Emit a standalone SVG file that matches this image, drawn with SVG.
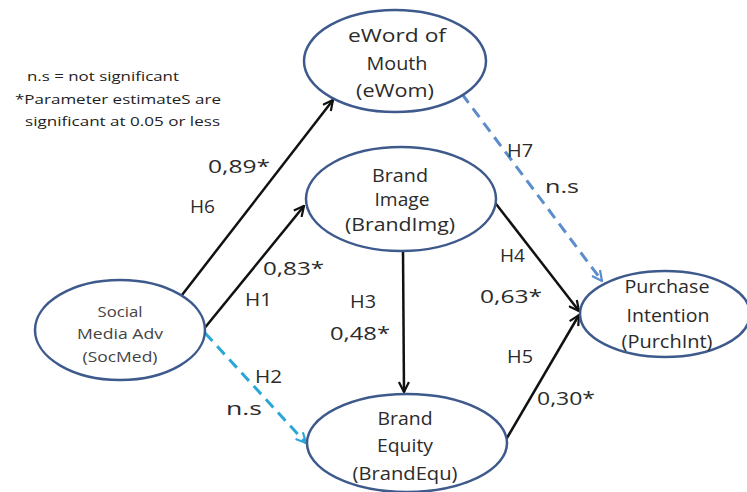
<svg xmlns="http://www.w3.org/2000/svg" width="747" height="492" viewBox="0 0 747 492">
  <style>
    .node ellipse { fill: #ffffff; stroke: #3e5a8c; stroke-width: 2.5; }
    .node text { font-family: "Open Sans", "DejaVu Sans", sans-serif; font-size: 18px; fill: #2b2b2b; text-anchor: middle; }
    .node.small text { font-size: 15px; fill: #444; }
    .lbl { font-family: "Open Sans", "DejaVu Sans", sans-serif; font-size: 18px; fill: #2b2b2b; }
    .legend { font-family: "Open Sans", "DejaVu Sans", sans-serif; font-size: 13.5px; fill: #222; }
    .solid { stroke: #111; stroke-width: 2.5; fill: none; marker-end: url(#arrowBlack); }
    .dashCyan { stroke: #2aa7d6; stroke-width: 3; fill: none; stroke-dasharray: 11 7; marker-end: url(#arrowCyan); }
    .dashBlue { stroke: #5b8ccc; stroke-width: 3; fill: none; stroke-dasharray: 11 7; marker-end: url(#arrowBlue); }
  </style>
  <defs>
    <marker id="arrowBlack" viewBox="0 0 12 12" refX="11" refY="6" markerWidth="12" markerHeight="12" markerUnits="userSpaceOnUse" orient="auto">
      <path d="M1,1 L11,6 L1,11" fill="none" stroke="#111" stroke-width="2.2"/>
    </marker>
    <marker id="arrowCyan" viewBox="0 0 12 12" refX="11" refY="6" markerWidth="12" markerHeight="12" markerUnits="userSpaceOnUse" orient="auto">
      <path d="M1,1 L11,6 L1,11" fill="none" stroke="#2aa7d6" stroke-width="2.2"/>
    </marker>
    <marker id="arrowBlue" viewBox="0 0 12 12" refX="11" refY="6" markerWidth="12" markerHeight="12" markerUnits="userSpaceOnUse" orient="auto">
      <path d="M1,1 L11,6 L1,11" fill="none" stroke="#5b8ccc" stroke-width="2.2"/>
    </marker>
  </defs>

  <rect width="747" height="492" fill="#ffffff"/>

  <!-- legend -->
  <g id="legend">
    <text class="legend" x="27" y="81" textLength="152" lengthAdjust="spacingAndGlyphs">n.s = not significant</text>
    <text class="legend" x="15" y="104" textLength="206" lengthAdjust="spacingAndGlyphs">*Parameter estimateS  are</text>
    <text class="legend" x="25" y="126" textLength="195" lengthAdjust="spacingAndGlyphs">significant  at 0.05 or less</text>
  </g>

  <!-- paths between constructs -->
  <g id="connectors">
    <line class="solid" x1="182" y1="295" x2="333" y2="100"/>
    <line class="solid" x1="203" y1="330" x2="304" y2="206"/>
    <line class="dashCyan" x1="205" y1="333" x2="306" y2="443"/>
    <line class="solid" x1="403" y1="251" x2="404" y2="392"/>
    <line class="solid" x1="493" y1="200" x2="579" y2="311"/>
    <line class="solid" x1="504" y1="443" x2="579" y2="315"/>
    <line class="dashBlue" x1="462" y1="94" x2="602" y2="281"/>
  </g>

  <!-- path labels -->
  <g id="labels">
    <text class="lbl" x="208" y="173" textLength="62" lengthAdjust="spacingAndGlyphs">0,89*</text>
    <text class="lbl" x="190" y="213" textLength="25" lengthAdjust="spacingAndGlyphs">H6</text>
    <text class="lbl" x="263" y="275" textLength="61" lengthAdjust="spacingAndGlyphs">0,83*</text>
    <text class="lbl" x="245" y="306" textLength="27" lengthAdjust="spacingAndGlyphs">H1</text>
    <text class="lbl" x="255" y="383" textLength="27" lengthAdjust="spacingAndGlyphs">H2</text>
    <text class="lbl" x="226" y="415" textLength="36" lengthAdjust="spacingAndGlyphs">n.s</text>
    <text class="lbl" x="350" y="308" textLength="26" lengthAdjust="spacingAndGlyphs">H3</text>
    <text class="lbl" x="330" y="340" textLength="60" lengthAdjust="spacingAndGlyphs">0,48*</text>
    <text class="lbl" x="500" y="262" textLength="25" lengthAdjust="spacingAndGlyphs">H4</text>
    <text class="lbl" x="480" y="303" textLength="62" lengthAdjust="spacingAndGlyphs">0,63*</text>
    <text class="lbl" x="507" y="363" textLength="26" lengthAdjust="spacingAndGlyphs">H5</text>
    <text class="lbl" x="537" y="405" textLength="58" lengthAdjust="spacingAndGlyphs">0,30*</text>
    <text class="lbl" x="507" y="157" textLength="26" lengthAdjust="spacingAndGlyphs">H7</text>
    <text class="lbl" x="545" y="193" textLength="34" lengthAdjust="spacingAndGlyphs">n.s</text>
  </g>

  <g id="eWom" class="node">
    <ellipse cx="395" cy="61" rx="91" ry="51"/>
    <text x="397" y="42" textLength="98" lengthAdjust="spacingAndGlyphs">eWord of</text>
    <text x="397" y="70" textLength="61" lengthAdjust="spacingAndGlyphs">Mouth</text>
    <text x="395" y="97" textLength="78" lengthAdjust="spacingAndGlyphs">(eWom)</text>
  </g>

  <g id="BrandImg" class="node">
    <ellipse cx="401" cy="199" rx="95" ry="52"/>
    <text x="400" y="182" textLength="56" lengthAdjust="spacingAndGlyphs">Brand</text>
    <text x="402" y="206" textLength="55" lengthAdjust="spacingAndGlyphs">Image</text>
    <text x="400" y="231" textLength="110" lengthAdjust="spacingAndGlyphs">(BrandImg)</text>
  </g>

  <g id="SocMed" class="node small">
    <ellipse cx="120" cy="330" rx="85" ry="50"/>
    <text x="120" y="317" textLength="45" lengthAdjust="spacingAndGlyphs">Social</text>
    <text x="120" y="339" textLength="86" lengthAdjust="spacingAndGlyphs">Media  Adv</text>
    <text x="120" y="362" textLength="75" lengthAdjust="spacingAndGlyphs">(SocMed)</text>
  </g>

  <g id="BrandEqu" class="node">
    <ellipse cx="407" cy="443" rx="100" ry="49"/>
    <text x="405" y="425" textLength="55" lengthAdjust="spacingAndGlyphs">Brand</text>
    <text x="405" y="452" textLength="56" lengthAdjust="spacingAndGlyphs">Equity</text>
    <text x="405" y="480" textLength="105" lengthAdjust="spacingAndGlyphs">(BrandEqu)</text>
  </g>

  <g id="PurchInt" class="node">
    <ellipse cx="665" cy="314" rx="85" ry="43"/>
    <text x="667" y="293" textLength="85" lengthAdjust="spacingAndGlyphs">Purchase</text>
    <text x="668" y="322" textLength="83" lengthAdjust="spacingAndGlyphs">Intention</text>
    <text x="667" y="348" textLength="91" lengthAdjust="spacingAndGlyphs">(PurchInt)</text>
  </g>
</svg>
